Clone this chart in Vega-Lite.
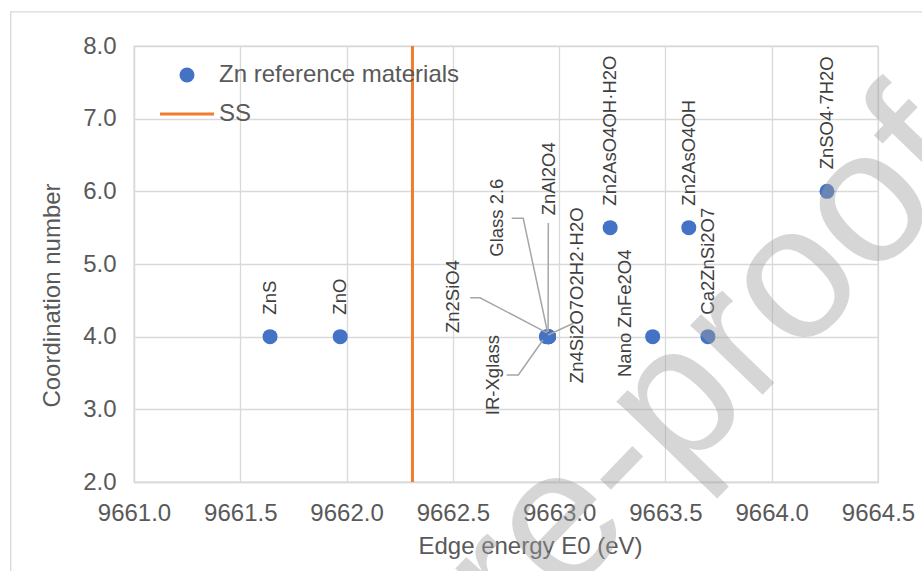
{
  "$schema": "https://vega.github.io/schema/vega-lite/v6.json",
  "width": 744,
  "height": 436,
  "autosize": {"type": "none"},
  "padding": {"left": 134, "top": 46, "right": 44, "bottom": 89},
  "background": "white",
  "config": {
    "font": "Liberation Sans",
    "view": {"stroke": "#d9d9d9", "strokeWidth": 1.3},
    "axis": {
      "gridColor": "#d9d9d9",
      "gridWidth": 1.3,
      "domainColor": "#d9d9d9",
      "domainWidth": 1.3,
      "ticks": false,
      "tickSize": 0,
      "labelFont": "Liberation Sans",
      "labelFontSize": 24,
      "labelColor": "#595959",
      "titleFont": "Liberation Sans",
      "titleFontSize": 24,
      "titleFontWeight": "normal",
      "titleColor": "#595959"
    }
  },
  "datasets": {
    "materials": [
      {"name": "ZnS", "E0": 9661.64, "CN": 4.0, "series": "Zn reference materials"},
      {"name": "ZnO", "E0": 9661.97, "CN": 4.0, "series": "Zn reference materials"},
      {"name": "Zn2SiO4", "E0": 9662.95, "CN": 4.0, "series": "Zn reference materials"},
      {"name": "Glass 2.6", "E0": 9662.95, "CN": 4.0, "series": "Zn reference materials"},
      {"name": "ZnAl2O4", "E0": 9662.95, "CN": 4.0, "series": "Zn reference materials"},
      {"name": "Zn4Si2O7O2H2·H2O", "E0": 9662.95, "CN": 4.0, "series": "Zn reference materials"},
      {"name": "IR-Xglass", "E0": 9662.94, "CN": 4.0, "series": "Zn reference materials"},
      {"name": "Zn2AsO4OH·H2O", "E0": 9663.24, "CN": 5.5, "series": "Zn reference materials"},
      {"name": "Nano ZnFe2O4", "E0": 9663.44, "CN": 4.0, "series": "Zn reference materials"},
      {"name": "Zn2AsO4OH", "E0": 9663.61, "CN": 5.5, "series": "Zn reference materials"},
      {"name": "Ca2ZnSi2O7", "E0": 9663.70, "CN": 4.0, "series": "Zn reference materials"},
      {"name": "ZnSO4·7H2O", "E0": 9664.26, "CN": 6.0, "series": "Zn reference materials"}
    ],
    "callouts": [
      {"name": "Zn2SiO4", "E0": 9662.50, "CN": 4.05},
      {"name": "Glass 2.6", "E0": 9662.71, "CN": 5.10},
      {"name": "ZnAl2O4", "E0": 9662.95, "CN": 5.67},
      {"name": "Zn4Si2O7O2H2·H2O", "E0": 9663.085, "CN": 3.36},
      {"name": "IR-Xglass", "E0": 9662.69, "CN": 2.92},
      {"name": "Nano ZnFe2O4", "E0": 9663.31, "CN": 3.445}
    ],
    "leaders": [
      {"name": "Glass 2.6", "seq": 1, "E0": 9662.777, "CN": 5.629},
      {"name": "Glass 2.6", "seq": 2, "E0": 9662.831, "CN": 5.629},
      {"name": "Glass 2.6", "seq": 3, "E0": 9662.945, "CN": 4.064},
      {"name": "ZnAl2O4", "seq": 1, "E0": 9662.949, "CN": 5.564},
      {"name": "ZnAl2O4", "seq": 2, "E0": 9662.948, "CN": 4.064},
      {"name": "Zn4Si2O7O2H2·H2O", "seq": 1, "E0": 9663.067, "CN": 4.184},
      {"name": "Zn4Si2O7O2H2·H2O", "seq": 2, "E0": 9662.948, "CN": 4.023},
      {"name": "Zn2SiO4", "seq": 1, "E0": 9662.581, "CN": 4.536},
      {"name": "Zn2SiO4", "seq": 2, "E0": 9662.628, "CN": 4.536},
      {"name": "Zn2SiO4", "seq": 3, "E0": 9662.943, "CN": 4.051},
      {"name": "IR-Xglass", "seq": 1, "E0": 9662.753, "CN": 3.473},
      {"name": "IR-Xglass", "seq": 2, "E0": 9662.808, "CN": 3.473},
      {"name": "IR-Xglass", "seq": 3, "E0": 9662.924, "CN": 3.954}
    ],
    "edge": [
      {"series": "SS", "E0": 9662.31}
    ]
  },
  "layer": [
    {
      "data": {"name": "materials"},
      "mark": {"type": "point", "filled": true, "size": 225, "opacity": 1},
      "encoding": {
        "x": {
          "field": "E0", "type": "quantitative", "title": "Edge energy E0 (eV)",
          "scale": {"domain": [9661, 9664.5], "nice": false, "zero": false},
          "axis": {
            "values": [9661, 9661.5, 9662, 9662.5, 9663, 9663.5, 9664, 9664.5],
            "format": ".1f",
            "labelPadding": 19,
            "labelFlush": false,
            "labelOverlap": false,
            "titleX": 396,
            "titleY": 64,
            "titleAlign": "center",
            "titleBaseline": "middle"
          }
        },
        "y": {
          "field": "CN", "type": "quantitative", "title": "Coordination number",
          "scale": {"domain": [2, 8], "nice": false, "zero": false},
          "axis": {
            "values": [2, 3, 4, 5, 6, 7, 8],
            "format": ".1f",
            "labelPadding": 18,
            "labelFlush": false,
            "labelOverlap": false,
            "titleX": -82,
            "titleY": 249,
            "titleAngle": 270,
            "titleAlign": "center",
            "titleBaseline": "middle"
          }
        },
        "color": {
          "field": "series", "type": "nominal",
          "scale": {"domain": ["Zn reference materials", "SS"], "range": ["#4472c4", "#ed7d31"]},
          "legend": {
            "title": null,
            "orient": "none",
            "legendX": 41,
            "legendY": 17,
            "padding": 0,
            "symbolSize": 225,
            "symbolOpacity": 1,
            "labelFont": "Liberation Sans",
            "labelFontSize": 24,
            "labelColor": "#595959",
            "labelLimit": 500,
            "labelOffset": 20,
            "rowPadding": 15,
            "encode": {
              "symbols": {
                "update": {
                  "stroke": {"scale": "color", "field": "value"},
                  "strokeWidth": {"signal": "datum.value === 'SS' ? 3 : 0"}
                }
              }
            }
          }
        },
        "shape": {
          "field": "series", "type": "nominal",
          "scale": {"domain": ["Zn reference materials", "SS"], "range": ["circle", "M-3.6,0H3.6"]},
          "legend": {
            "title": null,
            "orient": "none",
            "legendX": 41,
            "legendY": 17,
            "padding": 0,
            "symbolSize": 225,
            "symbolOpacity": 1,
            "labelFont": "Liberation Sans",
            "labelFontSize": 24,
            "labelColor": "#595959",
            "labelLimit": 500,
            "labelOffset": 20,
            "rowPadding": 15,
            "encode": {
              "symbols": {
                "update": {
                  "stroke": {"scale": "color", "field": "value"},
                  "strokeWidth": {"signal": "datum.value === 'SS' ? 3 : 0"}
                }
              }
            }
          }
        }
      }
    },
    {
      "data": {"values": [{}]},
      "mark": {"type": "rect", "fillOpacity": 0, "stroke": "#d9d9d9", "strokeWidth": 1.3, "clip": false},
      "encoding": {
        "x": {"datum": 9660.42, "type": "quantitative", "title": "Edge energy E0 (eV)"},
        "x2": {"datum": 9665.3},
        "y": {"datum": 8.47, "type": "quantitative", "title": "Coordination number"},
        "y2": {"datum": 0.3}
      }
    },
    {
      "data": {"name": "edge"},
      "mark": {"type": "rule", "strokeWidth": 3},
      "encoding": {
        "x": {"field": "E0", "type": "quantitative", "title": "Edge energy E0 (eV)"},
        "color": {"field": "series", "type": "nominal", "legend": null}
      }
    },
    {
      "data": {"name": "leaders"},
      "mark": {"type": "line", "color": "#a6a6a6", "strokeWidth": 1.5},
      "encoding": {
        "x": {"field": "E0", "type": "quantitative", "title": "Edge energy E0 (eV)"},
        "y": {"field": "CN", "type": "quantitative", "title": "Coordination number"},
        "detail": {"field": "name"},
        "order": {"field": "seq", "type": "quantitative"}
      }
    },
    {
      "data": {"name": "materials"},
      "transform": [
        {"filter": {"field": "name", "oneOf": ["ZnS", "ZnO", "Zn2AsO4OH·H2O", "Zn2AsO4OH", "Ca2ZnSi2O7", "ZnSO4·7H2O"]}}
      ],
      "mark": {"type": "text", "angle": 270, "align": "left", "baseline": "middle", "dx": 22, "fontSize": 18.5, "color": "#404040", "font": "Liberation Sans"},
      "encoding": {
        "x": {"field": "E0", "type": "quantitative", "title": "Edge energy E0 (eV)"},
        "y": {"field": "CN", "type": "quantitative", "title": "Coordination number"},
        "text": {"field": "name"}
      }
    },
    {
      "data": {"name": "callouts"},
      "mark": {"type": "text", "angle": 270, "align": "left", "baseline": "middle", "fontSize": 18.5, "color": "#404040", "font": "Liberation Sans"},
      "encoding": {
        "x": {"field": "E0", "type": "quantitative", "title": "Edge energy E0 (eV)"},
        "y": {"field": "CN", "type": "quantitative", "title": "Coordination number"},
        "text": {"field": "name"}
      }
    },
    {
      "data": {"values": [{}]},
      "mark": {"type": "text", "text": "Pre-proof", "angle": 314, "align": "center", "baseline": "alphabetic", "fontSize": 190, "font": "Liberation Sans", "color": "#a0a0a0", "opacity": 0.42},
      "encoding": {
        "x": {"datum": 9663.69, "type": "quantitative", "title": "Edge energy E0 (eV)"},
        "y": {"datum": 2.39, "type": "quantitative", "title": "Coordination number"}
      }
    }
  ]
}
